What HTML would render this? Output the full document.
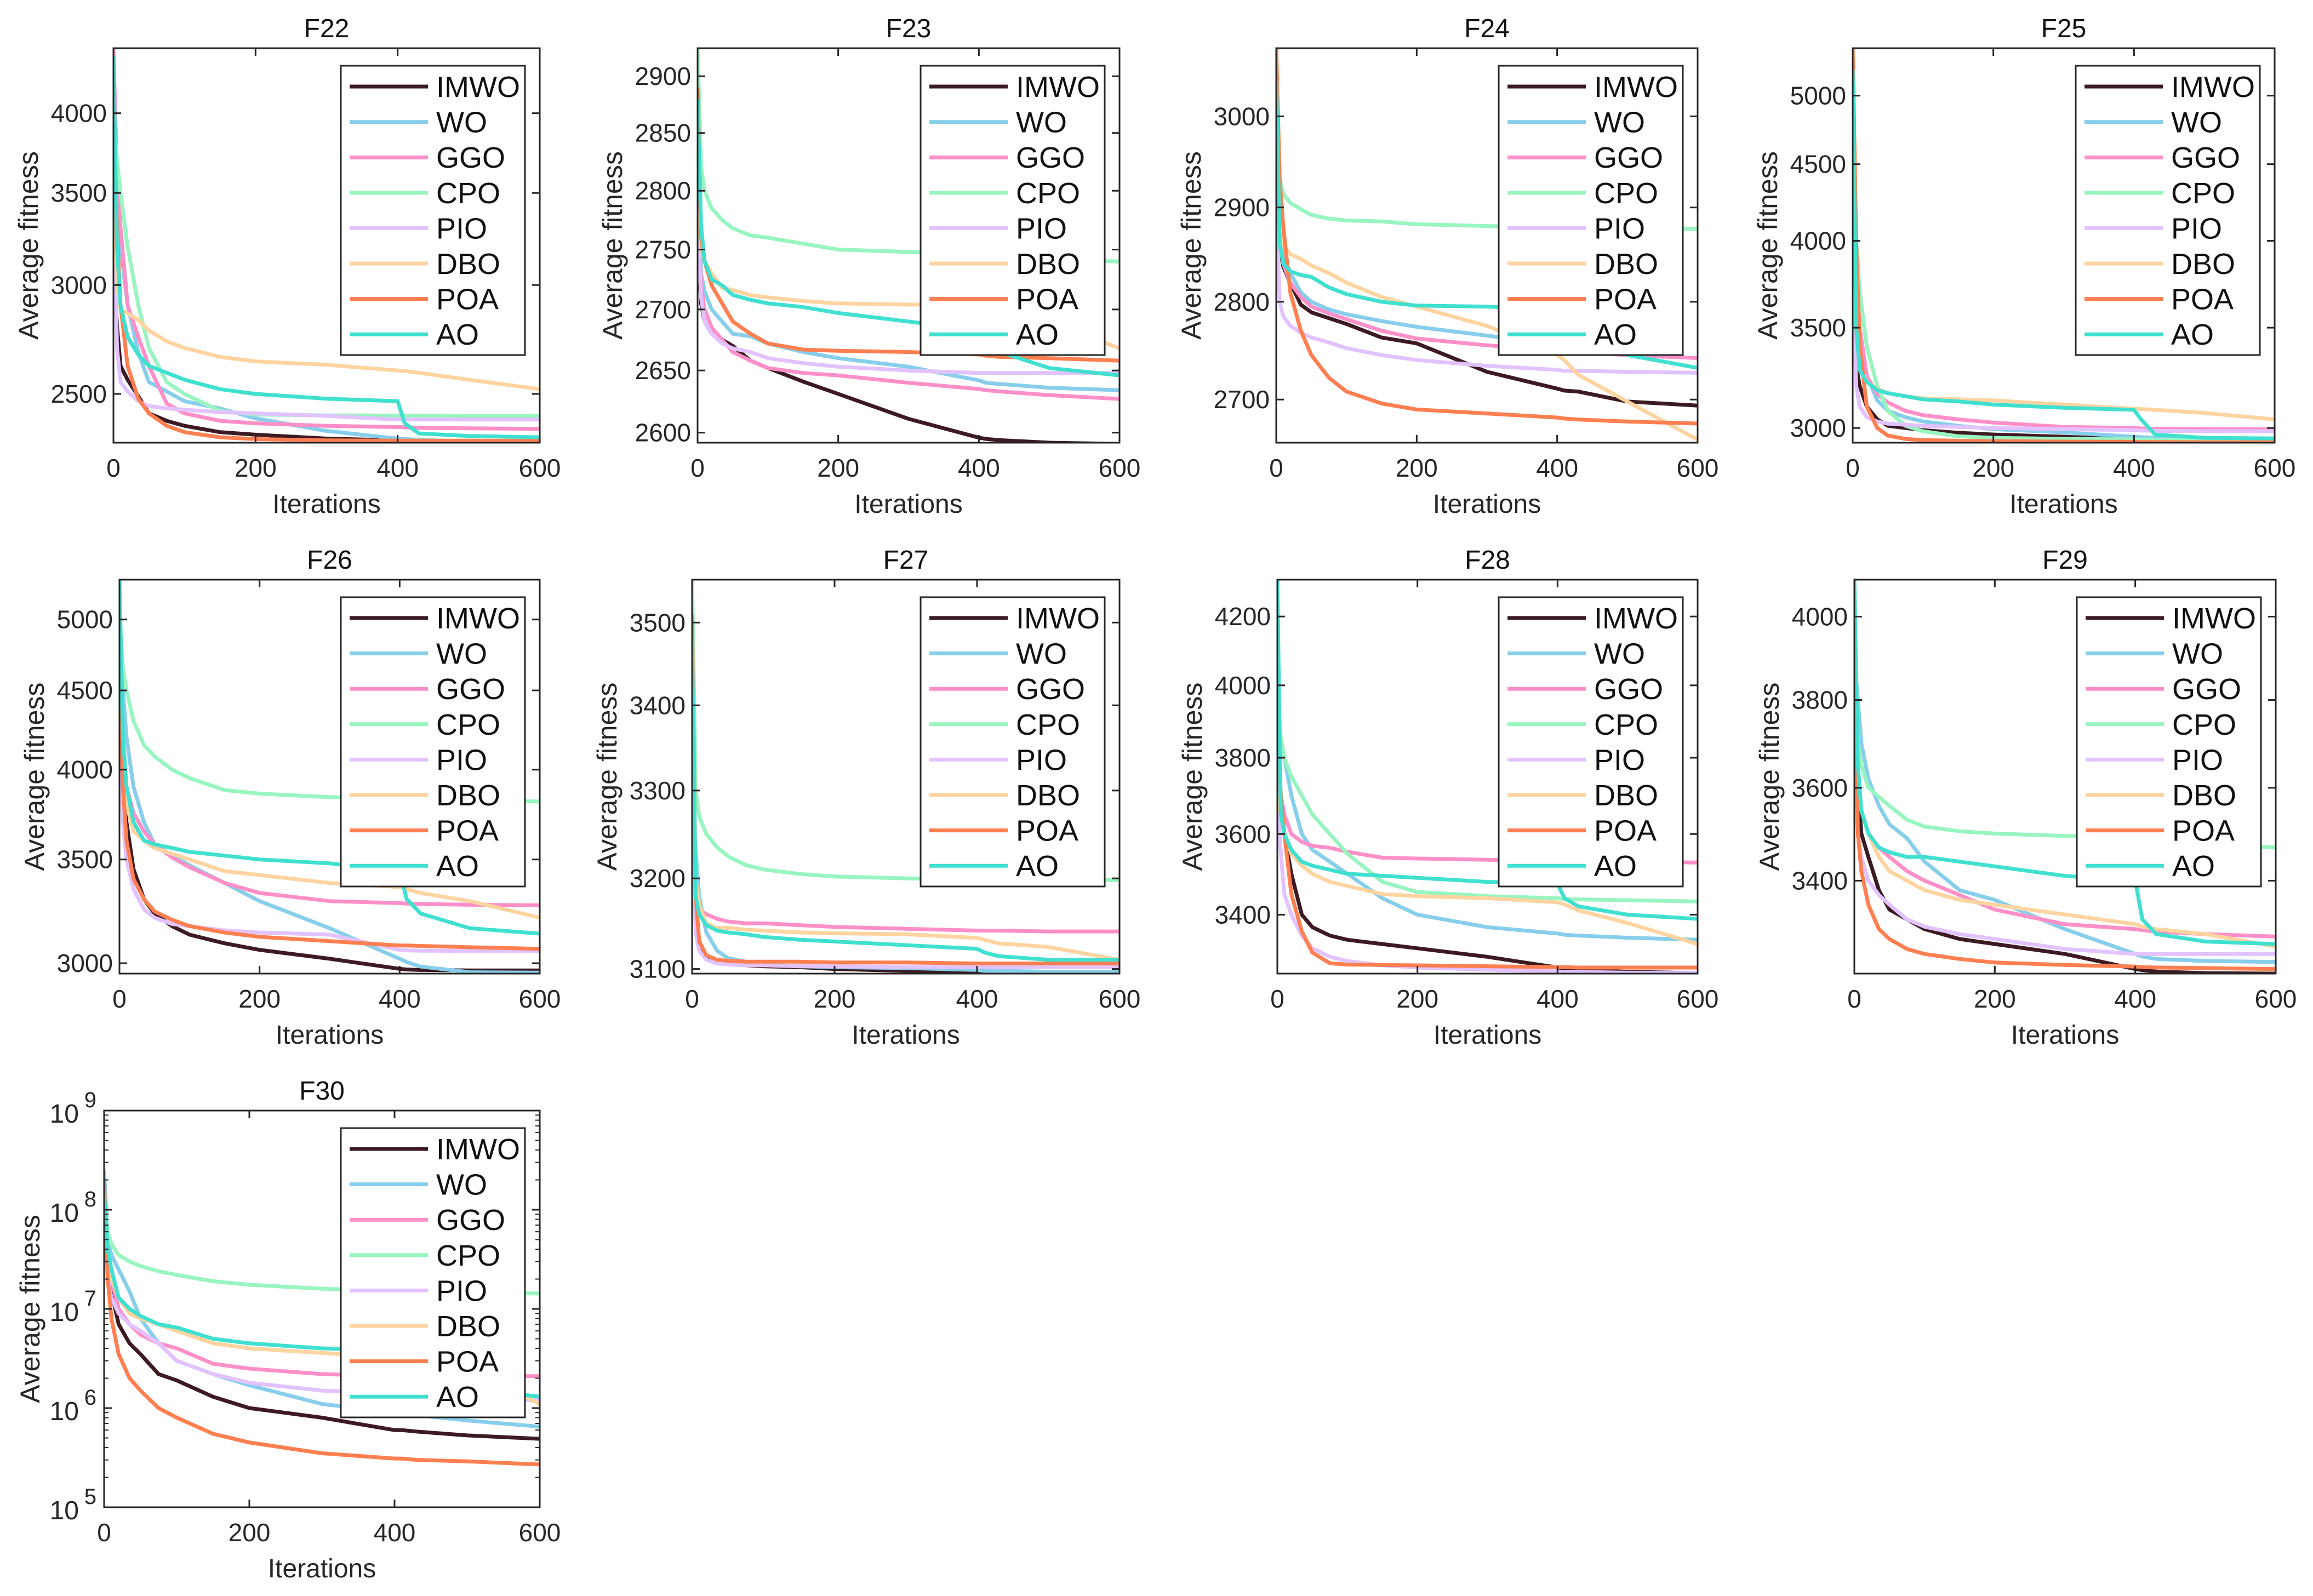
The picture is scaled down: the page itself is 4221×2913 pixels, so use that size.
<!DOCTYPE html>
<html><head><meta charset="utf-8">
<style>
html,body{margin:0;padding:0;background:#fff;}
svg{display:block;font-family:"Liberation Sans",Arial,sans-serif;}
</style></head>
<body>
<svg id="chart" width="4221" height="2913" viewBox="0 0 4221 2913" xmlns="http://www.w3.org/2000/svg">
<rect width="4221" height="2913" fill="#fff"/>
</svg>
<script>
const iters = [0,5,10,20,35,50,75,100,150,200,300,400,410,430,500,600];
const algos = ["IMWO","WO","GGO","CPO","PIO","DBO","POA","AO"];
const colors = ["#3d1a22","#87ceeb","#ff8fc8","#98f5c0","#e2c2ff","#ffd4a0","#ff7f50","#40e0d0"];
const xticks = [0,200,400,600];

const F22_yticks=[2500,3000,3500,4000];
const F22_ydom=[2304,4460];
const F22_IMWO=[3150,2800,2620,2560,2490,2420,2390,2370,2345,2335,2320,2313,2312,2311,2310,2310];
const F22_WO=[4000,3400,3200,2900,2680,2550,2510,2470,2440,2400,2350,2320,2318,2315,2308,2303];
const F22_GGO=[4460,3600,3300,2900,2750,2620,2460,2420,2390,2380,2370,2365,2364,2362,2360,2358];
const F22_CPO=[4000,3700,3500,3200,2900,2700,2550,2500,2430,2415,2412,2411,2411,2411,2410,2410];
const F22_PIO=[3550,2700,2550,2510,2470,2450,2440,2435,2425,2420,2410,2395,2395,2395,2395,2395];
const F22_DBO=[3600,3000,2880,2860,2830,2780,2730,2700,2660,2640,2625,2600,2598,2590,2560,2520];
const F22_POA=[4100,3300,2900,2620,2480,2420,2370,2345,2325,2318,2313,2312,2312,2312,2312,2312];
const F22_AO=[4400,3200,2900,2750,2670,2620,2590,2560,2520,2500,2480,2470,2380,2340,2330,2325];

const F23_yticks=[2600,2650,2700,2750,2800,2850,2900];
const F23_ydom=[2592,2925];
const F23_IMWO=[2760,2705,2690,2680,2675,2670,2658,2652,2641,2631,2611,2596,2595,2594,2592,2591];
const F23_WO=[2800,2730,2715,2700,2690,2680,2678,2672,2665,2660,2653,2642,2640,2639,2636,2634];
const F23_GGO=[2790,2720,2700,2685,2675,2665,2658,2652,2648,2646,2640,2635,2634,2633,2630,2627];
const F23_CPO=[2925,2820,2800,2785,2775,2768,2762,2760,2755,2750,2748,2745,2744,2743,2741,2740];
const F23_PIO=[2770,2710,2690,2680,2672,2668,2665,2660,2656,2653,2650,2648,2648,2648,2648,2648];
const F23_DBO=[2800,2750,2740,2730,2718,2716,2712,2710,2707,2705,2704,2704,2703,2700,2690,2668];
const F23_POA=[2890,2760,2740,2720,2705,2690,2680,2672,2667,2666,2665,2663,2662,2661,2660,2658];
const F23_AO=[2880,2770,2740,2725,2720,2712,2708,2705,2702,2697,2690,2683,2675,2665,2652,2646];

const F24_yticks=[2700,2800,2900,3000];
const F24_ydom=[2657,3077];
const F24_IMWO=[2960,2858,2837,2820,2797,2789,2783,2777,2763,2757,2728,2711,2709,2708,2698,2694];
const F24_WO=[2940,2870,2850,2830,2810,2800,2792,2787,2780,2774,2765,2755,2753,2750,2745,2742];
const F24_GGO=[2900,2860,2840,2820,2805,2795,2788,2782,2770,2762,2755,2750,2749,2748,2745,2742];
const F24_CPO=[3000,2930,2915,2905,2898,2892,2888,2886,2885,2882,2880,2879,2879,2879,2878,2877];
const F24_PIO=[2900,2800,2785,2775,2768,2763,2758,2752,2745,2740,2734,2730,2729,2729,2728,2727];
const F24_DBO=[2950,2870,2860,2850,2845,2838,2830,2820,2805,2795,2775,2745,2740,2725,2698,2660];
const F24_POA=[3077,2930,2880,2810,2770,2745,2722,2708,2696,2690,2686,2682,2681,2680,2678,2676];
const F24_AO=[3040,2860,2840,2832,2828,2826,2815,2808,2800,2796,2795,2792,2780,2765,2745,2732];

const F25_yticks=[3000,3500,4000,4500,5000];
const F25_ydom=[2933,5378];
const F25_IMWO=[3500,3300,3200,3100,3040,3010,3000,2990,2978,2970,2960,2948,2946,2945,2943,2942];
const F25_WO=[4500,3800,3500,3250,3130,3080,3050,3030,3010,2995,2980,2960,2958,2955,2950,2948];
const F25_GGO=[4600,3800,3500,3250,3160,3120,3080,3060,3040,3025,3005,3000,2998,2997,2995,2994];
const F25_CPO=[4600,4000,3700,3400,3200,3080,3010,2985,2962,2955,2950,2948,2947,2947,2946,2945];
const F25_PIO=[3800,3200,3100,3050,3030,3020,3015,3010,3005,3000,2995,2990,2988,2987,2985,2985];
const F25_DBO=[3800,3500,3300,3220,3185,3165,3150,3140,3135,3130,3110,3090,3088,3085,3070,3040];
const F25_POA=[5378,4000,3400,3100,3000,2965,2950,2945,2942,2940,2938,2937,2936,2936,2935,2935];
const F25_AO=[5200,3500,3280,3220,3180,3165,3150,3135,3125,3110,3095,3085,3040,2970,2955,2952];

const F26_yticks=[3000,3500,4000,4500,5000];
const F26_ydom=[2954,5305];
const F26_IMWO=[4800,4000,3700,3450,3300,3230,3170,3130,3090,3060,3020,2975,2972,2970,2968,2968];
const F26_WO=[5000,4500,4200,3900,3700,3580,3520,3470,3380,3290,3160,3020,3005,2985,2960,2958];
const F26_GGO=[4700,4100,3900,3750,3650,3580,3510,3460,3380,3330,3290,3280,3278,3276,3272,3270];
const F26_CPO=[5000,4650,4500,4300,4150,4080,4000,3950,3880,3860,3840,3830,3828,3826,3820,3815];
const F26_PIO=[4200,3700,3500,3350,3250,3210,3180,3170,3150,3140,3130,3060,3058,3056,3055,3055];
const F26_DBO=[4600,4000,3800,3650,3600,3560,3530,3500,3440,3420,3380,3360,3350,3330,3290,3210];
const F26_POA=[4700,3900,3600,3400,3300,3240,3200,3170,3140,3120,3100,3080,3080,3078,3072,3065];
const F26_AO=[5305,4200,3900,3700,3600,3580,3560,3540,3520,3500,3480,3440,3300,3230,3160,3135];

const F27_yticks=[3100,3200,3300,3400,3500];
const F27_ydom=[3095,3553];
const F27_IMWO=[3350,3170,3130,3112,3108,3106,3104,3103,3102,3100,3098,3097,3096,3096,3095,3095];
const F27_WO=[3300,3230,3180,3140,3120,3112,3108,3105,3103,3102,3101,3099,3098,3098,3097,3097];
const F27_GGO=[3200,3170,3165,3160,3155,3152,3150,3150,3148,3146,3144,3142,3142,3142,3141,3141];
const F27_CPO=[3553,3300,3270,3250,3235,3225,3215,3210,3205,3202,3200,3199,3199,3199,3198,3198];
const F27_PIO=[3250,3140,3120,3110,3106,3105,3104,3104,3103,3103,3102,3102,3102,3102,3102,3102];
const F27_DBO=[3400,3200,3170,3150,3145,3145,3143,3142,3140,3139,3138,3134,3132,3128,3124,3110];
const F27_POA=[3510,3180,3130,3115,3110,3109,3108,3108,3108,3107,3107,3106,3106,3106,3106,3106];
const F27_AO=[3480,3180,3160,3148,3142,3140,3138,3135,3132,3130,3126,3122,3118,3114,3110,3110];

const F28_yticks=[3400,3600,3800,4000,4200];
const F28_ydom=[3261,4311];
const F28_IMWO=[3800,3700,3600,3500,3400,3370,3350,3340,3330,3320,3300,3275,3273,3270,3265,3262];
const F28_WO=[3900,3850,3800,3700,3600,3560,3530,3500,3440,3400,3370,3355,3352,3350,3345,3340];
const F28_GGO=[3800,3700,3650,3600,3580,3570,3565,3555,3540,3538,3535,3532,3531,3530,3530,3528];
const F28_CPO=[4000,3850,3800,3750,3700,3650,3600,3550,3480,3455,3445,3440,3438,3437,3435,3432];
const F28_PIO=[3700,3550,3450,3400,3350,3320,3300,3290,3280,3275,3270,3266,3265,3265,3263,3262];
const F28_DBO=[3700,3650,3600,3550,3520,3500,3480,3470,3450,3445,3440,3430,3425,3410,3380,3330];
const F28_POA=[3900,3700,3600,3450,3360,3310,3285,3282,3281,3280,3278,3276,3276,3275,3275,3275];
const F28_AO=[4311,3650,3600,3560,3530,3520,3510,3500,3495,3490,3480,3475,3440,3420,3400,3390];

const F29_yticks=[3400,3600,3800,4000];
const F29_ydom=[3211,4092];
const F29_IMWO=[3900,3600,3500,3450,3380,3340,3320,3300,3280,3270,3250,3220,3218,3215,3212,3211];
const F29_WO=[3900,3800,3700,3620,3560,3520,3490,3440,3380,3360,3300,3250,3245,3240,3236,3234];
const F29_GGO=[3750,3600,3550,3500,3470,3450,3420,3400,3370,3340,3310,3300,3298,3295,3290,3285];
const F29_CPO=[3900,3700,3650,3600,3580,3560,3530,3515,3505,3500,3495,3490,3488,3486,3480,3470];
const F29_PIO=[3650,3500,3450,3400,3370,3350,3320,3305,3290,3280,3260,3250,3250,3250,3250,3250];
const F29_DBO=[3700,3600,3550,3500,3450,3420,3400,3380,3360,3350,3330,3310,3305,3300,3290,3265];
const F29_POA=[4092,3500,3420,3350,3300,3280,3260,3250,3240,3233,3228,3225,3224,3223,3222,3220];
const F29_AO=[4092,3650,3550,3500,3470,3460,3450,3450,3440,3430,3410,3400,3320,3290,3275,3270];

const F30_yticks=[1e5,1e6,1e7,1e8,1e9];
const F30_ydom=[1e5,1e9];
const F30_IMWO=[1.5e8,3e7,1.5e7,7e6,4.5e6,3.5e6,2.2e6,1.9e6,1.3e6,1e6,8e5,6e5,6e5,5.8e5,5.3e5,4.9e5];
const F30_WO=[2.5e8,5e7,3.5e7,2.5e7,1.5e7,8e6,4.5e6,3e6,2.2e6,1.7e6,1.1e6,9e5,9e5,8.5e5,7.5e5,6.5e5];
const F30_GGO=[8e7,3e7,2e7,1e7,7e6,5.5e6,4.5e6,4e6,2.8e6,2.5e6,2.2e6,2.1e6,2.1e6,2.1e6,2.1e6,2.1e6];
const F30_CPO=[1.5e8,6e7,4.5e7,3.5e7,3e7,2.7e7,2.4e7,2.2e7,1.9e7,1.75e7,1.6e7,1.5e7,1.5e7,1.5e7,1.45e7,1.43e7];
const F30_PIO=[6e7,2e7,1.3e7,9e6,7e6,6e6,4.5e6,3e6,2.2e6,1.8e6,1.5e6,1.4e6,1.3e6,1.3e6,1.25e6,1.2e6];
const F30_DBO=[8e7,3.5e7,2e7,1.3e7,9e6,8e6,7e6,6e6,4.5e6,4e6,3.6e6,3.2e6,3.1e6,3e6,2.5e6,1.1e6];
const F30_POA=[2e8,2e7,8e6,3.5e6,2e6,1.5e6,1e6,8e5,5.5e5,4.5e5,3.5e5,3.1e5,3.1e5,3e5,2.9e5,2.7e5];
const F30_AO=[1.5e8,4e7,2.5e7,1.3e7,1e7,8.5e6,7e6,6.5e6,5e6,4.5e6,4e6,3.8e6,2.5e6,2e6,1.6e6,1.3e6];

const panels = [
 {name:"F22",l:207,t:88,r:985,b:808,dom:F22_ydom,ticks:F22_yticks,s:[F22_IMWO,F22_WO,F22_GGO,F22_CPO,F22_PIO,F22_DBO,F22_POA,F22_AO]},
 {name:"F23",l:1273,t:88,r:2043,b:808,dom:F23_ydom,ticks:F23_yticks,s:[F23_IMWO,F23_WO,F23_GGO,F23_CPO,F23_PIO,F23_DBO,F23_POA,F23_AO]},
 {name:"F24",l:2329,t:88,r:3098,b:808,dom:F24_ydom,ticks:F24_yticks,s:[F24_IMWO,F24_WO,F24_GGO,F24_CPO,F24_PIO,F24_DBO,F24_POA,F24_AO]},
 {name:"F25",l:3381,t:88,r:4151,b:808,dom:F25_ydom,ticks:F25_yticks,s:[F25_IMWO,F25_WO,F25_GGO,F25_CPO,F25_PIO,F25_DBO,F25_POA,F25_AO]},
 {name:"F26",l:218,t:1058,r:985,b:1777,dom:F26_ydom,ticks:F26_yticks,s:[F26_IMWO,F26_WO,F26_GGO,F26_CPO,F26_PIO,F26_DBO,F26_POA,F26_AO]},
 {name:"F27",l:1263,t:1058,r:2043,b:1777,dom:F27_ydom,ticks:F27_yticks,s:[F27_IMWO,F27_WO,F27_GGO,F27_CPO,F27_PIO,F27_DBO,F27_POA,F27_AO]},
 {name:"F28",l:2331,t:1058,r:3098,b:1777,dom:F28_ydom,ticks:F28_yticks,s:[F28_IMWO,F28_WO,F28_GGO,F28_CPO,F28_PIO,F28_DBO,F28_POA,F28_AO]},
 {name:"F29",l:3384,t:1058,r:4153,b:1777,dom:F29_ydom,ticks:F29_yticks,s:[F29_IMWO,F29_WO,F29_GGO,F29_CPO,F29_PIO,F29_DBO,F29_POA,F29_AO]},
 {name:"F30",l:190,t:2027,r:985,b:2751,dom:F30_ydom,ticks:F30_yticks,s:[F30_IMWO,F30_WO,F30_GGO,F30_CPO,F30_PIO,F30_DBO,F30_POA,F30_AO],pow:true}
];

const NS="http://www.w3.org/2000/svg";
const svg=document.getElementById('chart');
function mk(tag,attrs,parent){const e=document.createElementNS(NS,tag);for(const k in attrs)e.setAttribute(k,attrs[k]);(parent||svg).appendChild(e);return e;}

panels.forEach(p=>{
  const g=mk('g',{});
  
  
  const lo=Math.log10(p.dom[0]),hi=Math.log10(p.dom[1]);
  const X=v=>p.l+(v-0)/(600-0)*(p.r-p.l);
  const Y=v=>p.b-(Math.log10(v)-lo)/(hi-lo)*(p.b-p.t);
  const cid='clip'+p.name;
  const cp=mk('clipPath',{id:cid},g);
  mk('rect',{x:p.l,y:p.t,width:p.r-p.l,height:p.b-p.t},cp);
  const sg=mk('g',{'clip-path':'url(#'+cid+')'},g);
  p.s.forEach((arr,i)=>{
    const pts=arr.map((v,j)=>X(iters[j]).toFixed(1)+','+Y(v).toFixed(1)).join(' ');
    const pl=mk('polyline',{points:pts,fill:'none',stroke:colors[i],'stroke-width':7,'stroke-linejoin':'round'},sg);
    
    
  });
  const box=mk('rect',{x:p.l,y:p.t,width:p.r-p.l,height:p.b-p.t,fill:'none',stroke:'#262626','stroke-width':3},g);
  
  
  xticks.forEach(v=>{
    const x=X(v);
    mk('line',{x1:x,y1:p.b,x2:x,y2:p.b-14,stroke:'#262626','stroke-width':3},g);
    mk('line',{x1:x,y1:p.t,x2:x,y2:p.t+14,stroke:'#262626','stroke-width':3},g);
    const t=mk('text',{x:x,y:p.b+62,'font-size':46,'text-anchor':'middle',fill:'#262626'},g);
    t.textContent=v;
    
    
  });
  p.ticks.forEach(v=>{
    const y=Y(v);
    mk('line',{x1:p.l,y1:y,x2:p.l+14,y2:y,stroke:'#262626','stroke-width':3},g);
    mk('line',{x1:p.r,y1:y,x2:p.r-14,y2:y,stroke:'#262626','stroke-width':3},g);
    if(p.pow){
      const t=mk('text',{x:p.l-46,y:y+22,'font-size':48,'text-anchor':'end',fill:'#262626'},g);
      t.textContent='10';
      
      
      const e=mk('text',{x:p.l-14,y:y-6,'font-size':40,'text-anchor':'end',fill:'#262626'},g);
      e.textContent=String(Math.round(Math.log10(v)));
    } else {
      const t=mk('text',{x:p.l-12,y:y+16,'font-size':46,'text-anchor':'end',fill:'#262626'},g);
      t.textContent=v;
      
      
    }
  });
  if(p.pow){
    for(let d=5;d<9;d++)for(let m=2;m<10;m++){const y=Y(m*Math.pow(10,d));
      mk('line',{x1:p.l,y1:y,x2:p.l+8,y2:y,stroke:'#262626','stroke-width':2},g);
      mk('line',{x1:p.r,y1:y,x2:p.r-8,y2:y,stroke:'#262626','stroke-width':2},g);}
  }
  const tt=mk('text',{x:(p.l+p.r)/2,y:p.t-20,'font-size':48,'text-anchor':'middle',fill:'#111'},g);
  tt.textContent=p.name;
  
  
  const xl=mk('text',{x:(p.l+p.r)/2,y:p.b+128,'font-size':48,'text-anchor':'middle',fill:'#262626'},g);
  xl.textContent='Iterations';
  
  
  const yc=(p.t+p.b)/2, yx=p.pow?72:(p.l-138);
  const yl=mk('text',{x:yx,y:yc,'font-size':50,'text-anchor':'middle',fill:'#262626',transform:'rotate(-90 '+yx+' '+yc+')'},g);
  yl.textContent='Average fitness';
  
  
  const lx=p.r-27-336, ly=p.t+32;
  const lg=mk('g',{},g);
  
  
  mk('rect',{x:lx,y:ly,width:336,height:528,fill:'#fff',stroke:'#262626','stroke-width':3},lg);
  algos.forEach((a,i)=>{
    const cy=ly+38+i*64.6;
    const e=mk('g',{},lg);
    
    
    mk('line',{x1:lx+16,y1:cy,x2:lx+159,y2:cy,stroke:colors[i],'stroke-width':7},e);
    const t=mk('text',{x:lx+174,y:cy+19,'font-size':54,fill:'#111'},e);
    t.textContent=a;
  });
});
</script>
</body></html>
